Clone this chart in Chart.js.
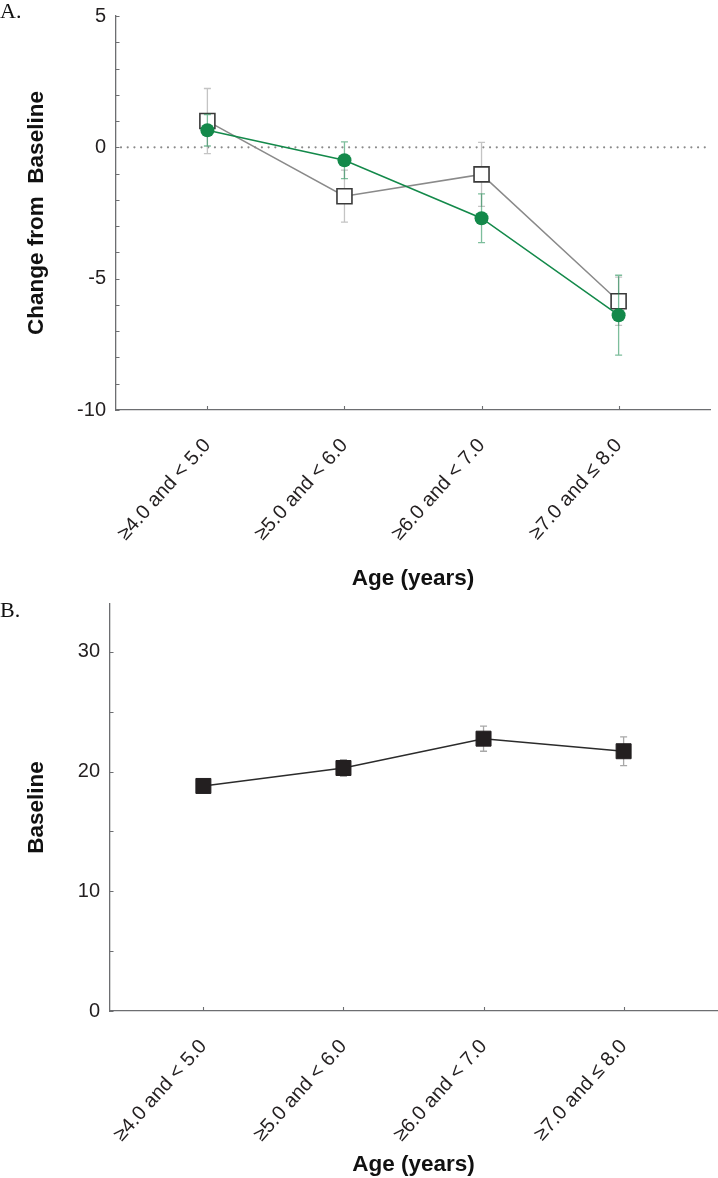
<!DOCTYPE html>
<html><head><meta charset="utf-8">
<script src="https://cdn.jsdelivr.net/npm/chart.js@4"></script>
<style>
html,body{margin:0;padding:0;background:#fff;}
#wrap{position:relative;width:718px;height:1178px;overflow:hidden;background:#fff;}
canvas{position:absolute;left:0;}
.lbl{position:absolute;font-family:"Liberation Serif","DejaVu Serif",serif;font-size:22px;color:#111;line-height:24px;}
</style></head><body>
<div id="wrap">
<canvas id="cA" width="718" height="600" style="top:0"></canvas>
<canvas id="cB" width="718" height="578" style="top:600px"></canvas>
<div class="lbl" style="left:0;top:-1px">A.</div>
<div class="lbl" style="left:0;top:598px">B.</div>
</div>
<script>
// ---- data ----
const categories = ["≥4.0 and < 5.0", "≥5.0 and < 6.0", "≥6.0 and < 7.0", "≥7.0 and ≤ 8.0"];
const changeOpen = [1.0, -1.86, -1.03, -5.86];
const changeOpenErr = [1.24, 0.99, 1.22, 0.92];
const changeGreen = [0.65, -0.49, -2.7, -6.39];
const changeGreenErr = [0.6, 0.7, 0.93, 1.52];
const baselineVals = [18.8, 20.3, 22.75, 21.7];
const baselineErr = [0.4, 0.7, 1.05, 1.2];
const changeTickLabels = [-10, -5, 0, 5];
const baselineTickLabels = [0, 10, 20, 30];

const FONT = '"Liberation Sans", Arial, Helvetica, sans-serif';
const AXIS = '#6d6e71';
const GREEN = '#13894a';

const toPts = vals => vals.map((v, i) => ({x: i + 1, y: v}));

const errorBarPlugin = {
  id: 'errorBars',
  beforeDatasetDraw(chart, args) {
    const ds = chart.data.datasets[args.index];
    if (!ds.errorBars) return;
    const ctx = chart.ctx, ys = chart.scales.y;
    const meta = args.meta;
    ctx.save();
    ctx.strokeStyle = ds.errorColor;
    ctx.lineWidth = 1.3;
    meta.data.forEach((pt, i) => {
      const v = ds.data[i].y, e = ds.errorBars[i];
      const yt = ys.getPixelForValue(v + e), yb = ys.getPixelForValue(v - e);
      const x = pt.x;
      ctx.beginPath();
      ctx.moveTo(x, yt); ctx.lineTo(x, yb);
      ctx.moveTo(x - 3.5, yt); ctx.lineTo(x + 3.5, yt);
      ctx.moveTo(x - 3.5, yb); ctx.lineTo(x + 3.5, yb);
      ctx.stroke();
    });
    ctx.restore();
  }
};

const refLinePlugin = {
  id: 'refLine',
  beforeDatasetsDraw(chart, args, opts) {
    if (!opts || opts.value === undefined) return;
    const ctx = chart.ctx, a = chart.chartArea;
    const y = chart.scales.y.getPixelForValue(opts.value);
    ctx.save();
    ctx.strokeStyle = '#8a8a8a';
    ctx.lineWidth = 2.2;
    ctx.lineCap = 'round';
    ctx.setLineDash([0.01, 6.7]);
    ctx.beginPath();
    ctx.moveTo(a.left + 5, y); ctx.lineTo(a.right, y);
    ctx.stroke();
    ctx.restore();
  }
};

const innerTicksPlugin = {
  id: 'innerTicks',
  afterDraw(chart) {
    const ctx = chart.ctx, a = chart.chartArea;
    const xs = chart.scales.x, ys = chart.scales.y;
    ctx.save();
    ctx.strokeStyle = AXIS;
    ctx.lineWidth = 1.1;
    ctx.beginPath();
    ys.ticks.forEach(t => {
      const y = Math.round(ys.getPixelForValue(t.value)) + 0.5;
      ctx.moveTo(a.left, y); ctx.lineTo(a.left + 3.5, y);
    });
    xs.ticks.forEach(t => {
      const x = Math.round(xs.getPixelForValue(t.value)) + 0.5;
      ctx.moveTo(x, a.bottom); ctx.lineTo(x, a.bottom - 4);
    });
    ctx.stroke();
    ctx.restore();
  }
};

function makeOptions(cfg) {
  return {
    responsive: false,
    animation: false,
    devicePixelRatio: 1,
    layout: {padding: cfg.padding, autoPadding: false},
    plugins: {legend: {display: false}, tooltip: {enabled: false}, refLine: cfg.refLine || {}},
    scales: {
      x: {
        type: 'linear', min: 1 / 3, max: 14 / 3,
        ticks: {
          stepSize: 1, includeBounds: false, autoSkip: false,
          minRotation: 48, maxRotation: 48, padding: cfg.xPad,
          font: {family: FONT, size: 20}, color: '#231f20',
          callback: v => categories[Math.round(v) - 1] || ''
        },
        grid: {display: false, drawTicks: false},
        border: {display: true, color: AXIS, width: 1.3},
        title: {display: true, text: 'Age (years)', color: '#111',
          font: {family: FONT, size: 22.5, weight: 'bold'}, padding: {top: 0, bottom: cfg.xTitlePad}},
        afterFit: s => { s.height = cfg.xHeight; s.paddingLeft = 0; s.paddingRight = 0; }
      },
      y: {
        type: 'linear', min: cfg.yMin, max: cfg.yMax,
        ticks: {
          stepSize: cfg.yStep, includeBounds: false, autoSkip: false, padding: 10,
          font: {family: FONT, size: 20}, color: '#231f20',
          callback: v => cfg.yLabels.includes(v) ? String(v) : ''
        },
        grid: {display: false, drawTicks: false},
        border: {display: true, color: AXIS, width: 1.3},
        title: {display: true, text: cfg.yTitle, color: '#111',
          font: {family: FONT, size: 22.5, weight: 'bold'}, padding: {top: 23, bottom: 0}},
        afterFit: s => { s.width = cfg.yWidth; s.paddingTop = 0; s.paddingBottom = 0; }
      }
    }
  };
}

new Chart(document.getElementById('cA'), {
  type: 'line',
  data: {
    datasets: [
      {
        data: toPts(changeGreen), errorBars: changeGreenErr, errorColor: 'rgba(19,137,74,0.55)',
        borderColor: GREEN, borderWidth: 1.5, tension: 0,
        pointStyle: 'circle', pointRadius: 7, pointBackgroundColor: GREEN, pointBorderColor: GREEN, pointBorderWidth: 0
      },
      {
        data: toPts(changeOpen), errorBars: changeOpenErr, errorColor: '#c4c4c4',
        borderColor: '#8a8a8a', borderWidth: 1.5, tension: 0,
        pointStyle: 'rect', pointRadius: 10.6, pointBackgroundColor: '#ffffff', pointBorderColor: '#3a3a3a', pointBorderWidth: 1.6
      }
    ]
  },
  options: makeOptions({
    padding: {top: 16, right: 8, left: 0, bottom: 0},
    xPad: 24, xTitlePad: 8, xHeight: 190,
    yMin: -10, yMax: 5, yStep: 1, yLabels: changeTickLabels,
    yTitle: 'Change from  Baseline', yWidth: 116,
    refLine: {value: 0}
  }),
  plugins: [errorBarPlugin, refLinePlugin, innerTicksPlugin]
});

new Chart(document.getElementById('cB'), {
  type: 'line',
  data: {
    datasets: [
      {
        data: toPts(baselineVals), errorBars: baselineErr, errorColor: '#a8a8a8',
        borderColor: '#2b2b2b', borderWidth: 1.5, tension: 0,
        pointStyle: 'rect', pointRadius: 10.6, pointBackgroundColor: '#231f20', pointBorderColor: '#231f20', pointBorderWidth: 1
      }
    ]
  },
  options: makeOptions({
    padding: {top: 4, right: 1, left: 0, bottom: 0},
    xPad: 24, xTitlePad: 0, xHeight: 167,
    yMin: 0, yMax: 34, yStep: 5, yLabels: baselineTickLabels,
    yTitle: 'Baseline', yWidth: 110
  }),
  plugins: [errorBarPlugin, innerTicksPlugin]
});
</script>
</body></html>
